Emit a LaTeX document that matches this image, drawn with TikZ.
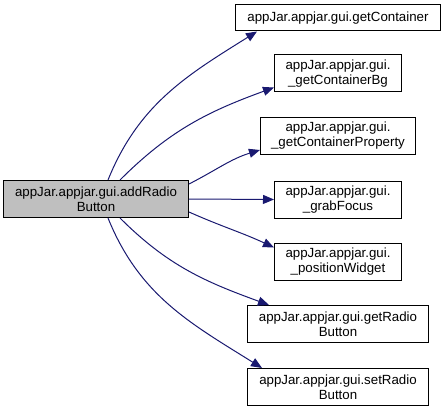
\documentclass[tikz,border=0pt]{standalone}
\usepackage{fontspec}
\setmainfont{Liberation Sans}
\usetikzlibrary{arrows.meta, positioning, calc}
\definecolor{GVNavy}{RGB}{25, 25, 112}
\definecolor{GVGray}{RGB}{191, 191, 191}

\begin{document}
\begin{tikzpicture}[
  x=1pt, y=-1pt,
  every node/.style={font=\fontsize{13.3}{15}\selectfont},
  box/.style={draw=black, line width=1pt, fill=white, align=center,
              inner sep=1pt, minimum height=37pt},
  focusbox/.style={box, fill=GVGray},
  arr/.style={-{Triangle[length=11pt, width=9pt]}, draw=GVNavy, line width=1pt}
]
  \useasboundingbox (0,0) rectangle (445,412);

  %% Caller and callees
  \node[focusbox, minimum width=185pt] (addradio) at (96, 199)   {appJar.appjar.gui.addRadio\\Button};
  \node[box, minimum width=205pt, minimum height=26pt] (getcont) at (338, 18) {appJar.appjar.gui.getContainer};
  \node[box, minimum width=127pt] (contbg)   at (338, 73.5)  {appJar.appjar.gui.\\\_getContainerBg};
  \node[box, minimum width=155pt] (contprop) at (338, 136)   {appJar.appjar.gui.\\\_getContainerProperty};
  \node[box, minimum width=127pt] (grab)     at (338, 199.5) {appJar.appjar.gui.\\\_grabFocus};
  \node[box, minimum width=127pt] (poswid)   at (338, 261.5) {appJar.appjar.gui.\\\_positionWidget};
  \node[box, minimum width=181pt] (getradio) at (338, 324)   {appJar.appjar.gui.getRadio\\Button};
  \node[box, minimum width=181pt] (setradio) at (338, 387)   {appJar.appjar.gui.setRadio\\Button};

  %% Calls
  \draw[arr] ([xshift=12]addradio.north) to[out=68, in=212] ([xshift=22]getcont.south west);
  \draw[arr] ([xshift=24]addradio.north) to[out=45, in=200] ([yshift=5]contbg.south west);
  \draw[arr] ([yshift=-4]addradio.north east) to[out=27, in=197] ([yshift=5]contprop.south west);
  \draw[arr] (addradio.east) -- (grab.west);
  \draw[arr] ([yshift=6]addradio.south east) to[out=-24, in=155] ([yshift=-5]poswid.north west);
  \draw[arr] ([xshift=24]addradio.south) to[out=-45, in=160] ([xshift=22]getradio.north west);
  \draw[arr] ([xshift=12]addradio.south) to[out=-68, in=148] ([xshift=15]setradio.north west);
\end{tikzpicture}
\end{document}
